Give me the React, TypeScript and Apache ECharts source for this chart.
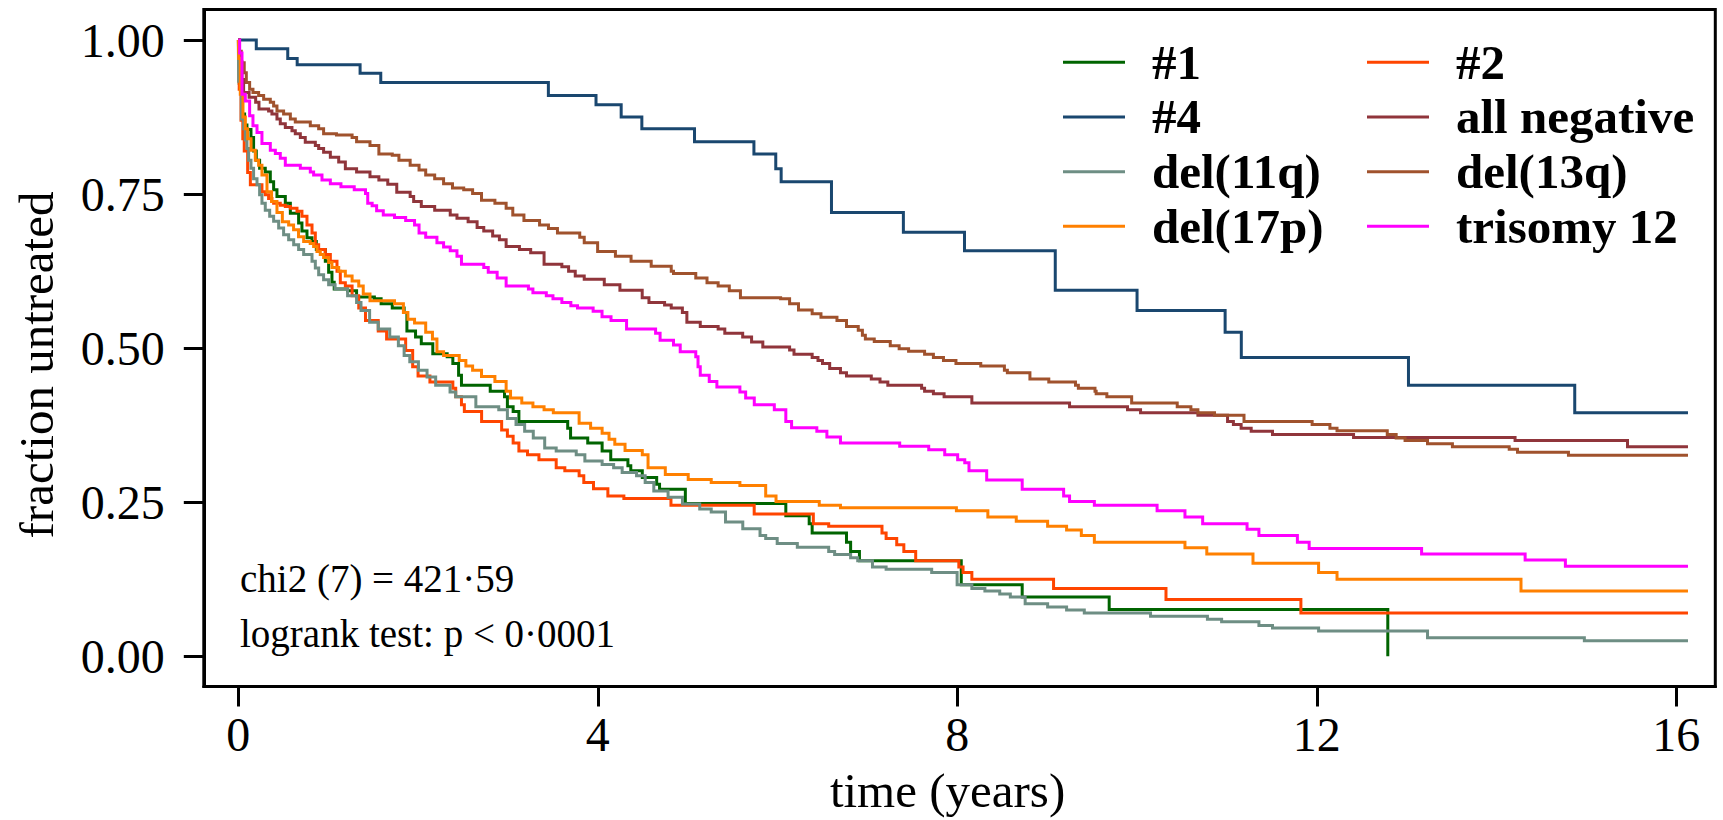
import React, { useEffect, useRef } from "react";
import * as echarts from "echarts";

const groupNames = ["#1", "#2", "#4", "all negative", "del(11q)", "del(13q)", "del(17p)", "trisomy 12"];
const legendLeftCol = ["#1", "#4", "del(11q)", "del(17p)"];
const legendRightCol = ["#2", "all negative", "del(13q)", "trisomy 12"];

const xTicks = [0, 4, 8, 12, 16];
const yTicks = [0, 0.25, 0.5, 0.75, 1];

const statLine1 = "chi2 (7) = 421·59";
const statLine2 = "logrank test: p < 0·0001";

// [time (years), fraction untreated after the step]
const km1 = [[0,1],[0.01,0.93],[0.04,0.88],[0.07,0.862],[0.096,0.855],[0.141,0.842],[0.17,0.82],[0.2,0.805],[0.237,0.792],[0.3,0.786],[0.356,0.77],[0.393,0.757],[0.43,0.746],[0.523,0.735],[0.579,0.719],[0.671,0.703],[0.708,0.69],[0.764,0.679],[0.82,0.673],[0.868,0.66],[0.968,0.641],[1.005,0.623],[1.042,0.607],[1.067,0.596],[1.216,0.593],[1.316,0.583],[1.514,0.58],[1.589,0.572],[1.713,0.565],[1.845,0.558],[1.876,0.528],[1.972,0.518],[2.036,0.507],[2.164,0.491],[2.324,0.486],[2.387,0.475],[2.451,0.456],[2.483,0.44],[2.803,0.43],[2.962,0.421],[2.994,0.405],[3.058,0.397],[3.122,0.381],[3.665,0.37],[3.697,0.354],[3.888,0.346],[4.048,0.333],[4.144,0.319],[4.335,0.309],[4.367,0.301],[4.495,0.29],[4.655,0.279],[4.687,0.271],[4.974,0.248],[6.092,0.228],[6.352,0.215],[6.385,0.2],[6.767,0.185],[6.813,0.17],[6.911,0.155],[8.044,0.116],[8.722,0.096],[9.69,0.076],[12.79,0]];

const km2 = [[0,1],[0.01,0.92],[0.03,0.87],[0.05,0.84],[0.066,0.82],[0.104,0.785],[0.134,0.765],[0.263,0.754],[0.3,0.749],[0.337,0.743],[0.374,0.738],[0.393,0.735],[0.467,0.732],[0.523,0.73],[0.579,0.727],[0.653,0.722],[0.708,0.714],[0.764,0.7],[0.82,0.687],[0.857,0.668],[0.894,0.66],[0.968,0.652],[1.024,0.641],[1.098,0.625],[1.135,0.606],[1.191,0.601],[1.266,0.585],[1.34,0.565],[1.415,0.545],[1.557,0.528],[1.65,0.515],[1.862,0.496],[1.94,0.47],[2.0,0.455],[2.132,0.445],[2.387,0.435],[2.419,0.421],[2.483,0.408],[2.515,0.397],[2.707,0.381],[2.93,0.367],[2.994,0.357],[3.058,0.346],[3.122,0.333],[3.218,0.327],[3.345,0.319],[3.537,0.306],[3.633,0.301],[3.792,0.293],[3.844,0.282],[3.952,0.272],[4.112,0.26],[4.29,0.256],[4.814,0.245],[5.74,0.231],[6.398,0.215],[6.569,0.211],[7.162,0.2],[7.208,0.191],[7.326,0.181],[7.405,0.17],[7.537,0.155],[8.017,0.145],[8.064,0.136],[8.162,0.125],[9.071,0.11],[10.322,0.092],[11.823,0.07],[16.13,0.07]];

const km4 = [[0,1],[0.2,0.986],[0.55,0.97],[0.655,0.96],[1.355,0.946],[1.585,0.931],[3.45,0.91],[3.98,0.895],[4.26,0.875],[4.49,0.856],[5.076,0.835],[5.737,0.815],[5.98,0.791],[6.04,0.77],[6.6,0.72],[7.4,0.688],[8.08,0.658],[9.09,0.594],[10.0,0.561],[10.98,0.526],[11.16,0.485],[13.02,0.44],[14.87,0.395],[16.13,0.395]];

const kmNeg = [[0,1],[0.01,0.965],[0.04,0.936],[0.059,0.915],[0.12,0.907],[0.193,0.899],[0.23,0.888],[0.337,0.885],[0.374,0.88],[0.43,0.872],[0.467,0.864],[0.523,0.858],[0.597,0.853],[0.634,0.848],[0.69,0.842],[0.745,0.834],[0.857,0.829],[0.894,0.824],[0.949,0.818],[1.024,0.81],[1.117,0.802],[1.191,0.791],[1.316,0.786],[1.465,0.778],[1.564,0.773],[1.663,0.766],[1.763,0.753],[1.912,0.746],[1.951,0.738],[2.036,0.73],[2.185,0.724],[2.358,0.716],[2.433,0.711],[2.557,0.705],[2.657,0.696],[2.731,0.69],[2.83,0.682],[2.905,0.676],[2.98,0.665],[3.128,0.66],[3.253,0.655],[3.402,0.636],[3.6,0.632],[3.675,0.625],[3.749,0.617],[3.849,0.612],[4.072,0.603],[4.246,0.594],[4.494,0.582],[4.569,0.574],[4.743,0.57],[4.817,0.565],[4.941,0.558],[4.991,0.542],[5.14,0.535],[5.339,0.531],[5.413,0.524],[5.612,0.518],[5.711,0.51],[5.836,0.502],[6.134,0.497],[6.183,0.49],[6.385,0.485],[6.45,0.48],[6.5,0.475],[6.58,0.467],[6.7,0.46],[6.767,0.455],[7.043,0.45],[7.14,0.445],[7.227,0.44],[7.603,0.435],[7.636,0.43],[7.734,0.426],[7.853,0.421],[8.162,0.411],[9.249,0.405],[9.894,0.4],[10.039,0.395],[10.677,0.391],[11.007,0.381],[11.072,0.376],[11.158,0.37],[11.27,0.365],[11.507,0.36],[12.409,0.355],[14.206,0.35],[15.457,0.34],[16.13,0.34]];

const km11q = [[0,1],[0.004,0.933],[0.033,0.872],[0.059,0.856],[0.078,0.838],[0.096,0.824],[0.115,0.805],[0.141,0.792],[0.17,0.775],[0.208,0.765],[0.237,0.749],[0.263,0.735],[0.3,0.724],[0.349,0.714],[0.393,0.706],[0.449,0.695],[0.504,0.684],[0.56,0.676],[0.616,0.668],[0.671,0.66],[0.727,0.652],[0.82,0.641],[0.857,0.63],[0.894,0.619],[0.949,0.611],[1.005,0.603],[1.077,0.596],[1.216,0.585],[1.316,0.574],[1.365,0.561],[1.461,0.542],[1.557,0.531],[1.685,0.518],[1.781,0.504],[1.845,0.488],[1.908,0.478],[2.004,0.464],[2.1,0.453],[2.196,0.44],[2.356,0.429],[2.419,0.421],[2.643,0.405],[2.898,0.4],[2.994,0.386],[3.09,0.376],[3.186,0.365],[3.282,0.354],[3.409,0.338],[3.537,0.333],[3.76,0.327],[3.856,0.317],[4.048,0.311],[4.176,0.306],[4.271,0.298],[4.431,0.293],[4.527,0.282],[4.623,0.268],[4.782,0.258],[4.942,0.247],[5.134,0.239],[5.262,0.234],[5.421,0.218],[5.613,0.207],[5.805,0.196],[5.868,0.191],[5.996,0.183],[6.22,0.177],[6.569,0.17],[6.635,0.165],[6.813,0.16],[6.892,0.155],[7.056,0.145],[7.208,0.141],[7.715,0.136],[7.998,0.116],[8.162,0.11],[8.307,0.106],[8.472,0.101],[8.59,0.096],[8.755,0.085],[9.005,0.08],[9.216,0.075],[9.413,0.07],[10.15,0.065],[10.783,0.06],[10.941,0.056],[11.356,0.05],[11.507,0.046],[12.02,0.041],[13.232,0.03],[14.977,0.025],[16.13,0.025]];

const km13q = [[0,1],[0.01,0.982],[0.033,0.963],[0.066,0.947],[0.089,0.931],[0.126,0.92],[0.163,0.915],[0.226,0.91],[0.282,0.904],[0.356,0.899],[0.393,0.893],[0.43,0.885],[0.504,0.88],[0.579,0.872],[0.634,0.867],[0.801,0.861],[0.894,0.856],[0.949,0.848],[1.092,0.846],[1.266,0.842],[1.316,0.835],[1.465,0.829],[1.564,0.815],[1.713,0.813],[1.787,0.805],[1.912,0.797],[2.011,0.789],[2.085,0.781],[2.185,0.775],[2.284,0.767],[2.383,0.76],[2.508,0.757],[2.607,0.751],[2.706,0.74],[2.855,0.735],[2.98,0.727],[3.054,0.716],[3.178,0.707],[3.352,0.7],[3.451,0.694],[3.551,0.687],[3.799,0.68],[3.849,0.671],[3.998,0.657],[4.196,0.649],[4.37,0.641],[4.594,0.633],[4.817,0.625],[4.842,0.621],[5.09,0.614],[5.215,0.606],[5.339,0.601],[5.463,0.593],[5.587,0.582],[6.034,0.58],[6.134,0.572],[6.233,0.562],[6.385,0.556],[6.483,0.55],[6.661,0.545],[6.767,0.535],[6.898,0.529],[6.944,0.521],[6.977,0.515],[7.076,0.511],[7.254,0.504],[7.353,0.499],[7.458,0.495],[7.636,0.49],[7.734,0.485],[7.846,0.48],[7.985,0.475],[8.261,0.471],[8.524,0.464],[8.557,0.46],[8.808,0.45],[9.018,0.445],[9.315,0.44],[9.347,0.435],[9.532,0.43],[9.545,0.426],[9.664,0.421],[9.94,0.411],[10.447,0.405],[10.599,0.4],[10.677,0.395],[10.862,0.391],[11.19,0.381],[11.948,0.376],[12.146,0.37],[12.225,0.366],[12.784,0.36],[12.883,0.354],[12.982,0.35],[13.232,0.345],[13.509,0.34],[14.141,0.336],[14.233,0.331],[14.8,0.326],[16.13,0.326]];

const km17p = [[0,1],[0.005,0.97],[0.022,0.912],[0.052,0.875],[0.078,0.856],[0.104,0.84],[0.141,0.821],[0.189,0.805],[0.226,0.797],[0.263,0.781],[0.319,0.754],[0.37,0.738],[0.43,0.72],[0.49,0.705],[0.56,0.7],[0.615,0.692],[0.67,0.681],[0.727,0.673],[0.8,0.67],[0.838,0.665],[0.875,0.657],[0.912,0.652],[0.949,0.647],[1.005,0.639],[1.042,0.631],[1.117,0.625],[1.191,0.617],[1.266,0.609],[1.34,0.601],[1.39,0.588],[1.465,0.577],[1.738,0.572],[1.837,0.558],[1.887,0.547],[1.961,0.541],[2.085,0.526],[2.16,0.515],[2.21,0.494],[2.284,0.488],[2.458,0.48],[2.532,0.471],[2.607,0.464],[2.706,0.454],[2.855,0.446],[2.98,0.43],[3.029,0.419],[3.154,0.411],[3.278,0.405],[3.402,0.4],[3.505,0.395],[3.792,0.378],[3.92,0.37],[4.048,0.362],[4.125,0.352],[4.189,0.344],[4.303,0.334],[4.495,0.327],[4.559,0.306],[4.751,0.295],[5.006,0.287],[5.262,0.282],[5.581,0.277],[5.868,0.26],[5.983,0.251],[6.464,0.245],[6.7,0.241],[7.99,0.236],[8.34,0.226],[8.656,0.219],[9.005,0.211],[9.216,0.205],[9.38,0.196],[9.525,0.185],[10.533,0.176],[10.776,0.166],[11.29,0.151],[12.02,0.136],[12.225,0.125],[14.272,0.106],[16.13,0.106]];

const kmTri12 = [[0,1],[0.015,0.979],[0.041,0.912],[0.078,0.901],[0.126,0.877],[0.163,0.861],[0.208,0.85],[0.263,0.832],[0.356,0.821],[0.412,0.816],[0.467,0.808],[0.523,0.797],[0.69,0.792],[0.801,0.786],[0.838,0.781],[0.931,0.773],[1.024,0.767],[1.142,0.762],[1.29,0.757],[1.415,0.751],[1.44,0.735],[1.489,0.731],[1.539,0.723],[1.613,0.716],[1.738,0.712],[1.862,0.707],[1.961,0.7],[2.011,0.687],[2.085,0.68],[2.21,0.671],[2.284,0.664],[2.358,0.658],[2.433,0.649],[2.483,0.636],[2.731,0.631],[2.781,0.623],[2.88,0.614],[2.98,0.601],[3.228,0.596],[3.278,0.59],[3.427,0.585],[3.501,0.58],[3.6,0.574],[3.7,0.569],[3.774,0.565],[3.948,0.56],[4.047,0.551],[4.147,0.545],[4.32,0.531],[4.643,0.524],[4.693,0.513],[4.842,0.505],[4.917,0.494],[5.09,0.486],[5.115,0.47],[5.14,0.456],[5.24,0.446],[5.325,0.437],[5.581,0.429],[5.645,0.419],[5.741,0.408],[5.964,0.4],[6.092,0.381],[6.156,0.371],[6.437,0.365],[6.549,0.356],[6.7,0.346],[7.359,0.341],[7.682,0.335],[7.86,0.327],[8.004,0.319],[8.083,0.314],[8.13,0.301],[8.327,0.286],[8.722,0.271],[9.183,0.26],[9.249,0.251],[9.525,0.245],[10.223,0.236],[10.533,0.226],[10.73,0.215],[11.224,0.206],[11.356,0.196],[11.784,0.185],[11.915,0.175],[13.166,0.166],[14.318,0.156],[14.766,0.146],[16.13,0.146]];

const seriesData = [km1, km2, km4, kmNeg, km11q, km13q, km17p, kmTri12];
const seriesColors = ["#006400", "#ff4500", "#1a476f", "#90353b", "#6e8e84", "#a0522d", "#ff8000", "#ff00ff"];

const FONT = "Liberation Serif";

export default function App() {
  const ref = useRef<HTMLDivElement>(null);

  useEffect(() => {
    if (!ref.current) return;
    const chart = echarts.init(ref.current, null, { renderer: "svg" });

    const legendCommon = {
      orient: "vertical",
      icon: "rect",
      itemWidth: 62,
      itemHeight: 3,
      itemGap: 4.67,
      padding: 0,
      selectedMode: false,
      top: 37.3,
      textStyle: {
        fontFamily: FONT,
        fontSize: 49,
        fontWeight: "bold",
        color: "#000",
        lineHeight: 50,
        padding: [0, 0, 0, 22],
      },
    };

    const option: any = {
      animation: false,
      backgroundColor: "#ffffff",
      grid: {
        left: 203.8,
        right: 7.7,
        top: 9.5,
        bottom: 127.8,
        show: true,
        borderColor: "#000",
        borderWidth: 3,
        backgroundColor: "transparent",
      },
      legend: [
        { ...legendCommon, left: 1063, data: legendLeftCol },
        { ...legendCommon, left: 1367, data: legendRightCol },
      ],
      xAxis: {
        type: "value",
        min: -0.384,
        max: 16.434,
        name: "time (years)",
        nameLocation: "middle",
        nameGap: 79.5,
        nameTextStyle: { fontFamily: FONT, fontSize: 49, color: "#000", lineHeight: 49, padding: [0, 24, 0, 0] },
        axisLine: { show: true, onZero: false, lineStyle: { color: "#000", width: 3 } },
        axisTick: { show: true, length: 20, customValues: xTicks, lineStyle: { color: "#000", width: 3 } },
        axisLabel: { customValues: xTicks, margin: 24, fontFamily: FONT, fontSize: 48, lineHeight: 48, color: "#000" },
        splitLine: { show: false },
      },
      yAxis: {
        type: "value",
        min: -0.0491,
        max: 1.0496,
        name: "fraction untreated",
        nameLocation: "middle",
        nameRotate: 90,
        nameGap: 143.3,
        nameTextStyle: { fontFamily: FONT, fontSize: 49, color: "#000", lineHeight: 49, padding: [0, 34, 0, 0] },
        axisLine: { show: true, onZero: false, lineStyle: { color: "#000", width: 3 } },
        axisTick: { show: true, length: 20, customValues: yTicks, lineStyle: { color: "#000", width: 3 } },
        axisLabel: {
          customValues: yTicks,
          margin: 39,
          fontFamily: FONT,
          fontSize: 48,
          lineHeight: 48,
          color: "#000",
          formatter: (v: number) => v.toFixed(2),
        },
        splitLine: { show: false },
      },
      graphic: [
        {
          type: "text",
          x: 240,
          y: 578.5,
          style: {
            text: statLine1,
            fontFamily: FONT,
            fontSize: 39,
            fill: "#000",
            align: "left",
            verticalAlign: "middle",
          },
        },
        {
          type: "text",
          x: 240,
          y: 633.8,
          style: {
            text: statLine2,
            fontFamily: FONT,
            fontSize: 39,
            fill: "#000",
            align: "left",
            verticalAlign: "middle",
          },
        },
      ],
      series: groupNames.map((name, i) => ({
        name,
        type: "line",
        step: "end",
        data: seriesData[i],
        showSymbol: false,
        symbol: "none",
        itemStyle: { color: seriesColors[i] },
        lineStyle: { color: seriesColors[i], width: 3, cap: "butt", join: "miter" },
        emphasis: { disabled: true },
      })),
    };

    chart.setOption(option);
    return () => chart.dispose();
  }, []);

  return (
    <div
      ref={ref}
      style={{ position: "absolute", left: 0, top: 0, width: 1723, height: 820, background: "#fff" }}
    />
  );
}
